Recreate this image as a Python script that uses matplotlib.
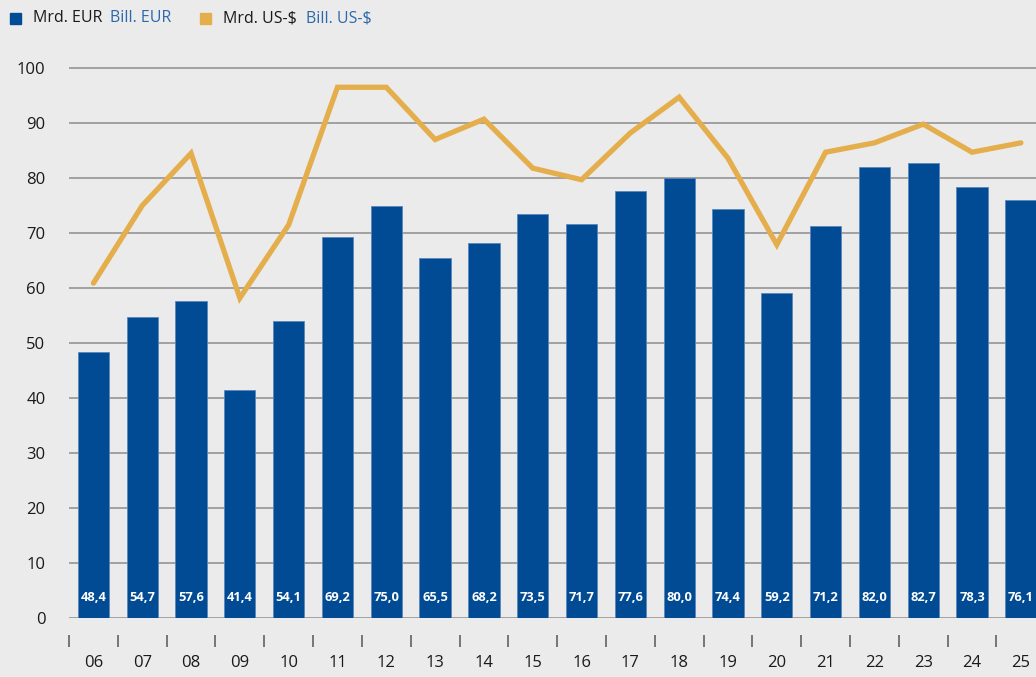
import matplotlib
matplotlib.use("Agg")
import matplotlib.pyplot as plt
from matplotlib.patches import Rectangle
import numpy as np

plt.rcParams['font.family'] = ['Open Sans', 'DejaVu Sans']

years = ["06", "07", "08", "09", "10", "11", "12", "13", "14", "15",
         "16", "17", "18", "19", "20", "21", "22", "23", "24", "25"]
eur = [48.4, 54.7, 57.6, 41.4, 54.1, 69.2, 75.0, 65.5, 68.2, 73.5,
       71.7, 77.6, 80.0, 74.4, 59.2, 71.2, 82.0, 82.7, 78.3, 76.1]
usd = [60.9, 75.0, 84.5, 58.2, 71.5, 96.5, 96.5, 87.0, 90.7, 81.8,
       79.7, 88.2, 94.7, 83.6, 67.9, 84.7, 86.4, 89.8, 84.7, 86.4]
yticks = [0, 10, 20, 30, 40, 50, 60, 70, 80, 90, 100]

BG = "#ebebeb"
BLUE = "#004b93"
GOLD = "#e5ae4c"
LBLUE = "#2d68aa"

W, H = 1036, 677
fig = plt.figure(figsize=(W / 100, H / 100), dpi=100, facecolor=BG)
ax = fig.add_axes([69 / W, (H - 618.3) / H, 1 - 69 / W, (618.3 - 57) / H])
ax.set_facecolor(BG)

x = np.arange(len(years))
ax.bar(x, eur, width=0.64, color=BLUE, edgecolor="#5a86bd", linewidth=0.6, zorder=2)
ax.plot(x, usd, color=GOLD, lw=3.8, solid_joinstyle='miter', solid_capstyle='round', zorder=3)

for xi, v in zip(x, eur):
    ax.text(xi, 3.7, f"{v:.1f}".replace(".", ","), color="white", fontsize=9.3,
            fontweight="bold", ha="center", va="center", zorder=4)

ax.set_xlim(-0.48, 19.31)
ax.set_ylim(0, 102)
ax.set_yticks(yticks)
ax.yaxis.grid(True, color="#a0a0a0", lw=1.4, zorder=1)
ax.set_axisbelow(True)
ax.tick_params(axis='y', length=0, pad=17, labelsize=12, labelcolor="#1a1a1a")

for s in ["top", "right", "left"]:
    ax.spines[s].set_visible(False)
ax.spines["bottom"].set_position(("outward", 12.3))
ax.spines["bottom"].set_visible(False)

ax.set_xticks(x - 0.5)
ax.set_xticklabels([""] * len(x))
ax.set_xticks(x, minor=True)
ax.set_xticklabels(years, minor=True)
ax.tick_params(axis='x', which='major', direction='out', length=8.6, width=1.1, color="#555555")
ax.tick_params(axis='x', which='minor', length=0, pad=14, labelsize=12, labelcolor="#1a1a1a")

# legend
def sq(xp, color):
    fig.patches.append(Rectangle((xp / W, (H - 24) / H), 11 / W, 11 / H,
                                 transform=fig.transFigure, color=color))
sq(10, BLUE)
fig.text(33 / W, (H - 18.5) / H, "Mrd. EUR", fontsize=11.5, color="#1a1a1a", va="center")
fig.text(110 / W, (H - 18.5) / H, "Bill. EUR", fontsize=11.5, color=LBLUE, va="center")
sq(200, GOLD)
fig.text(223 / W, (H - 18.5) / H, "Mrd. US-$", fontsize=11.5, color="#1a1a1a", va="center")
fig.text(306 / W, (H - 18.5) / H, "Bill. US-$", fontsize=11.5, color=LBLUE, va="center")

fig.savefig("out.png", dpi=100, facecolor=BG)
